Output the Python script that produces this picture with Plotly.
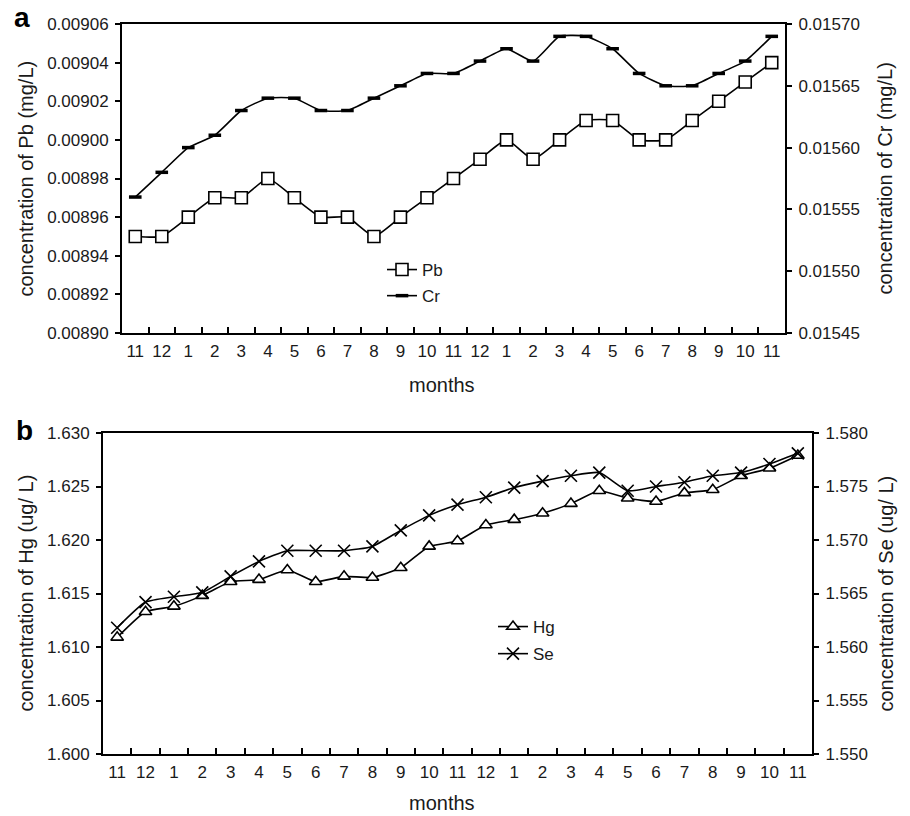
import plotly.graph_objects as go

months = ["11", "12", "1", "2", "3", "4", "5", "6", "7", "8", "9", "10", "11",
          "12", "1", "2", "3", "4", "5", "6", "7", "8", "9", "10", "11"]

pb = [0.00895, 0.00895, 0.00896, 0.00897, 0.00897, 0.00898, 0.00897, 0.00896,
      0.00896, 0.00895, 0.00896, 0.00897, 0.00898, 0.00899, 0.00900, 0.00899,
      0.00900, 0.00901, 0.00901, 0.00900, 0.00900, 0.00901, 0.00902, 0.00903,
      0.00904]
cr = [0.01556, 0.01558, 0.01560, 0.01561, 0.01563, 0.01564, 0.01564, 0.01563,
      0.01563, 0.01564, 0.01565, 0.01566, 0.01566, 0.01567, 0.01568, 0.01567,
      0.01569, 0.01569, 0.01568, 0.01566, 0.01565, 0.01565, 0.01566, 0.01567,
      0.01569]
hg = [1.6109, 1.6133, 1.6138, 1.6148, 1.6161, 1.6163, 1.6172, 1.6161, 1.6166,
      1.6165, 1.6174, 1.6194, 1.6199, 1.6214, 1.6219, 1.6225, 1.6234, 1.6246,
      1.6239, 1.6236, 1.6244, 1.6247, 1.6260, 1.6267, 1.6279]
se = [1.5618, 1.5642, 1.5647, 1.5651, 1.5666, 1.5680, 1.5690, 1.5690, 1.5690,
      1.5694, 1.5709, 1.5723, 1.5733, 1.5740, 1.5749, 1.5755, 1.5760, 1.5763,
      1.5746, 1.5750, 1.5754, 1.5760, 1.5763, 1.5771, 1.5781]

pb_ticks = [0.00890, 0.00892, 0.00894, 0.00896, 0.00898, 0.00900, 0.00902, 0.00904, 0.00906]
cr_ticks = [0.01545, 0.01550, 0.01555, 0.01560, 0.01565, 0.01570]
hg_ticks = [1.600, 1.605, 1.610, 1.615, 1.620, 1.625, 1.630]
se_ticks = [1.550, 1.555, 1.560, 1.565, 1.570, 1.575, 1.580]

idx = list(range(len(months)))
bounds = [i - 0.5 for i in range(len(months) + 1)]

# body margin is removed (post_script), so the figure fills the window
W, H = 910, 816
FONT = "Liberation Sans, Arial, sans-serif"
TXT = "#1a1a1a"


def px_x(p):  # page pixel -> paper fraction
    return p / W


def px_y(p):
    return 1 - p / H


fig = go.Figure()

line_style = dict(color="black", width=1.6, shape="spline", smoothing=0.5)

fig.add_trace(go.Scatter(
    x=idx, y=pb, name="Pb", mode="lines+markers", xaxis="x", yaxis="y",
    line=line_style, legend="legend", legendgroup="pb",
    marker=dict(symbol="square", size=12, color="white",
                line=dict(color="black", width=1.6))))
fig.add_trace(go.Scatter(
    x=idx, y=cr, name="Cr", mode="lines+markers", xaxis="x", yaxis="y2",
    line=line_style, legend="legend", legendgroup="cr",
    marker=dict(symbol="line-ew", size=9, color="black",
                line=dict(color="black", width=3.5))))
fig.add_trace(go.Scatter(
    x=idx, y=hg, name="Hg", mode="lines+markers", xaxis="x2", yaxis="y3",
    line=line_style, legend="legend2", legendgroup="hg",
    marker=dict(symbol="triangle-up", size=11, color="white",
                line=dict(color="black", width=1.6))))
fig.add_trace(go.Scatter(
    x=idx, y=se, name="Se", mode="lines+markers", xaxis="x2", yaxis="y4",
    line=line_style, legend="legend2", legendgroup="se",
    marker=dict(symbol="x-thin", size=12, color="black",
                line=dict(color="black", width=1.6))))


def xax(domain, anchor):
    return dict(domain=domain, anchor=anchor, range=[-0.5, len(months) - 0.5],
                tickmode="array", tickvals=idx, ticktext=months,
                ticks="inside", ticklen=6, tickcolor="rgba(0,0,0,0)",
                minor=dict(tickmode="array", tickvals=bounds, ticks="inside",
                           ticklen=6, tickwidth=1.6, tickcolor="black",
                           showgrid=False),
                showline=True, linecolor="black", linewidth=2, mirror=True,
                showgrid=False, zeroline=False, automargin=False,
                tickfont=dict(size=17, color=TXT), ticklabelstandoff=2)


def yax(domain, anchor, rng, ticks, fmt, side="left", overlaying=None):
    d = dict(domain=domain, anchor=anchor, range=rng, tickmode="array",
             tickvals=ticks, tickformat=fmt, side=side,
             ticks="outside", ticklen=5, tickwidth=1.6, tickcolor="black",
             showline=True, linecolor="black", linewidth=2,
             showgrid=False, zeroline=False, automargin=False,
             tickfont=dict(size=17, color=TXT), ticklabelstandoff=3)
    if overlaying:
        d["overlaying"] = overlaying
    return d


# plot areas in page pixels
a_x0, a_x1, a_y0, a_y1 = 122, 785, 24, 333
b_x0, b_x1, b_y0, b_y1 = 103, 812, 433, 754

fig.update_layout(
    width=W, height=H,
    margin=dict(l=0, r=0, t=0, b=0, autoexpand=False),
    paper_bgcolor="white", plot_bgcolor="white",
    font=dict(family=FONT, size=17, color=TXT),
    xaxis=xax([px_x(a_x0), px_x(a_x1)], "y"),
    yaxis=yax([px_y(a_y1), px_y(a_y0)], "x", [pb_ticks[0], pb_ticks[-1]], pb_ticks, ".5f"),
    yaxis2=yax([px_y(a_y1), px_y(a_y0)], "x", [cr_ticks[0], cr_ticks[-1]], cr_ticks, ".5f",
               side="right", overlaying="y"),
    xaxis2=xax([px_x(b_x0), px_x(b_x1)], "y3"),
    yaxis3=yax([px_y(b_y1), px_y(b_y0)], "x2", [hg_ticks[0], hg_ticks[-1]], hg_ticks, ".3f"),
    yaxis4=yax([px_y(b_y1), px_y(b_y0)], "x2", [se_ticks[0], se_ticks[-1]], se_ticks, ".3f",
               side="right", overlaying="y3"),
    legend=dict(x=px_x(382), y=px_y(252), xanchor="left", yanchor="top",
                bgcolor="rgba(0,0,0,0)", font=dict(size=17, color=TXT),
                tracegroupgap=1, traceorder="grouped"),
    legend2=dict(x=px_x(493), y=px_y(609), xanchor="left", yanchor="top",
                 bgcolor="rgba(0,0,0,0)", font=dict(size=17, color=TXT),
                 tracegroupgap=2, traceorder="grouped"),
)


def ann(text, x, y, angle=0, size=20, bold=False, yanchor="middle"):
    fig.add_annotation(text=("<b>%s</b>" % text) if bold else text,
                       x=px_x(x), y=px_y(y), xref="paper", yref="paper",
                       showarrow=False, textangle=angle,
                       font=dict(size=size, color=TXT if not bold else "black", family=FONT),
                       xanchor="center", yanchor=yanchor)


ann("a", 22, 0, size=28, bold=True, yanchor="top")
ann("b", 24, 430, size=28, bold=True)
ann("concentration of Pb (mg/L)", 25, (a_y0 + a_y1) / 2, angle=-90)
ann("concentration of Cr (mg/L)", 884, (a_y0 + a_y1) / 2, angle=-90)
ann("months", 442, 385)
ann("concentration of Hg (ug/ L)", 25, (b_y0 + b_y1) / 2, angle=-90)
ann("concentration of Se (ug/ L)", 885, (b_y0 + b_y1) / 2, angle=-90)
ann("months", 442, 803)

fig.write_html("out.html", config={"displayModeBar": False},
               post_script="document.body.style.margin='0';document.body.style.padding='0';")
